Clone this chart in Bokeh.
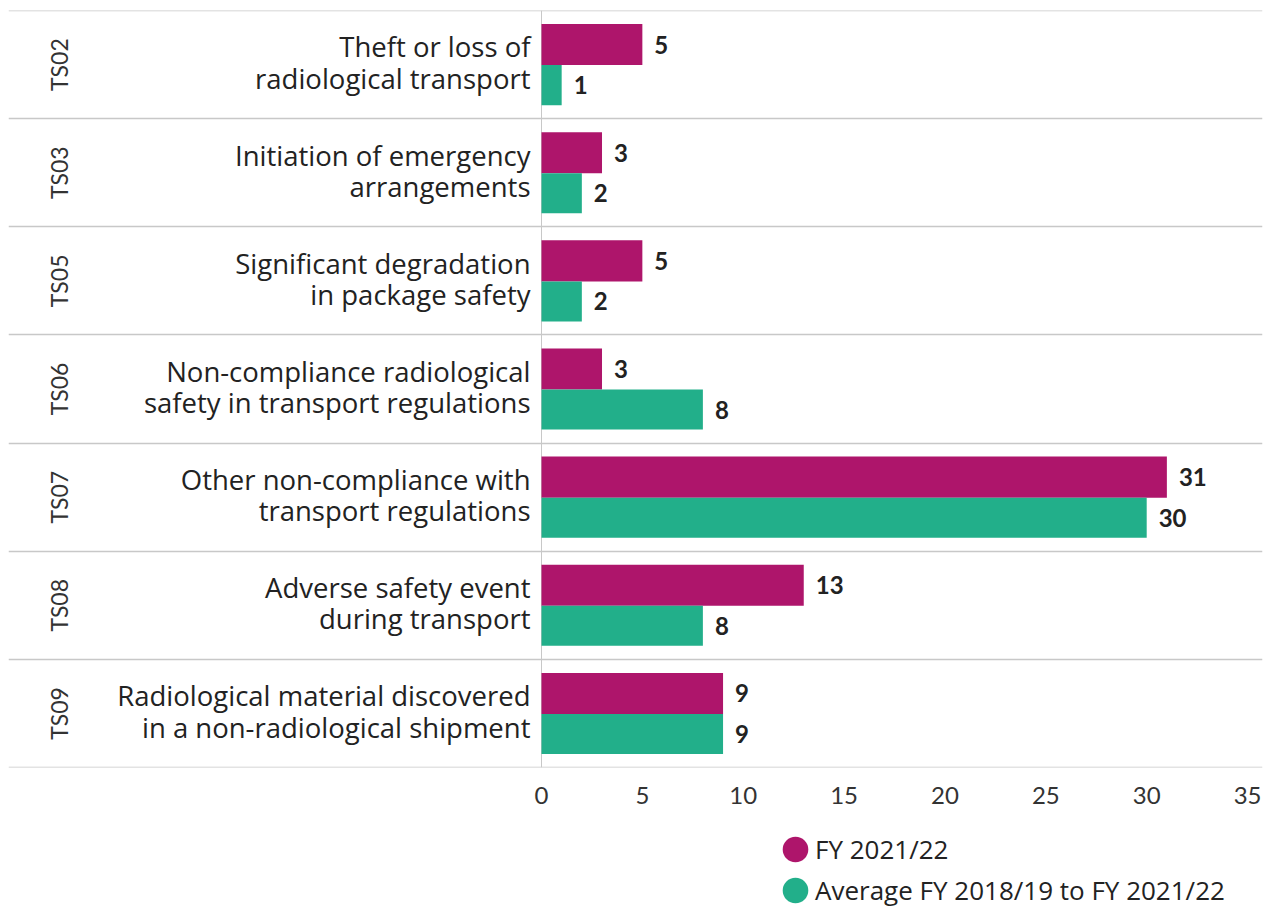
import math
from bokeh.plotting import figure
from bokeh.layouts import column
from bokeh.models import Range1d, FixedTicker, Legend, LegendItem, ColumnDataSource
from bokeh.core.properties import value
from bokeh.embed import file_html
from bokeh.resources import INLINE

codes = ["TS02", "TS03", "TS05", "TS06", "TS07", "TS08", "TS09"]
labels = [
    "Theft or loss of\nradiological transport",
    "Initiation of emergency\narrangements",
    "Significant degradation\nin package safety",
    "Non-compliance radiological\nsafety in transport regulations",
    "Other non-compliance with\ntransport regulations",
    "Adverse safety event\nduring transport",
    "Radiological material discovered\nin a non-radiological shipment",
]
fy_2021_22 = [5, 3, 5, 3, 31, 13, 9]
avg_2018_2022 = [1, 2, 2, 8, 30, 8, 9]
x_ticks = [0, 5, 10, 15, 20, 25, 30, 35]
series_names = ["FY 2021/22", "Average FY 2018/19 to FY 2021/22"]

MAGENTA = "#AE156B"
TEAL = "#22AF8A"
FONT = "Lato"
LABEL_FONT = "Open Sans"

n = len(codes)
ycent = [n - i - 0.5 for i in range(n)]

src = ColumnDataSource(dict(
    y=ycent,
    y1=[y + 0.185 for y in ycent],
    y2=[y - 0.19 for y in ycent],
    fy=fy_2021_22,
    avg=avg_2018_2022,
    fy_txt=[str(v) for v in fy_2021_22],
    avg_txt=[str(v) for v in avg_2018_2022],
    code=codes,
    label=labels,
    zero=[0] * n,
    code_x=[-23.9] * n,
))

p = figure(width=1266, height=827, output_backend="svg", toolbar_location=None,
           x_range=Range1d(-26.42, 35.74), y_range=Range1d(0, n),
           y_axis_location=None, min_border_left=8, min_border_right=4,
           min_border_top=10, min_border_bottom=60)
p.outline_line_color = None
p.xgrid.visible = False
p.ygrid.visible = False
p.background_fill_color = "white"

# row separators and zero line
p.hspan(y=list(range(n + 1)), line_color="#c8c8c8", line_width=1.5)
p.vspan(x=[0], line_color="#c8c8c8", line_width=1)

p.hbar(y="y1", left="zero", right="fy", height=0.38, source=src,
       fill_color=MAGENTA, line_color=None)
p.hbar(y="y2", left="zero", right="avg", height=0.37, source=src,
       fill_color=TEAL, line_color=None)

# value labels
p.text(x="fy", y="y1", text="fy_txt", source=src, x_offset=12,
       text_font=value(FONT), text_font_style="bold", text_font_size="24px",
       text_color="#222222", text_align="left", text_baseline="middle")
p.text(x="avg", y="y2", text="avg_txt", source=src, x_offset=12,
       text_font=value(FONT), text_font_style="bold", text_font_size="24px",
       text_color="#222222", text_align="left", text_baseline="middle")

# category labels
p.text(x="zero", y="y", text="label", source=src, x_offset=-11, y_offset=-2,
       text_font=value(LABEL_FONT), text_font_size="27.5px", text_line_height=0.845,
       text_color="#222222", text_align="right", text_baseline="middle")
# codes
p.text(x="code_x", y="y", text="code", source=src, angle=math.pi / 2,
       text_font=value(FONT), text_font_size="23px",
       text_color="#333333", text_align="center", text_baseline="middle")

ax = p.xaxis[0]
ax.ticker = FixedTicker(ticks=x_ticks)
ax.axis_line_color = None
ax.major_tick_line_color = None
ax.minor_tick_line_color = None
ax.major_tick_out = 0
ax.major_tick_in = 0
ax.major_label_standoff = 19
ax.major_label_text_font = FONT
ax.major_label_text_font_size = "24px"
ax.major_label_text_color = "#333333"

# legend figure
lf = figure(width=1266, height=81, output_backend="svg", toolbar_location=None,
            x_range=Range1d(0, 1), y_range=Range1d(0, 1),
            x_axis_location=None, y_axis_location=None,
            min_border_left=0, min_border_right=0, min_border_top=0, min_border_bottom=0)
lf.outline_line_color = None
lf.xgrid.visible = False
lf.ygrid.visible = False
proxy = ColumnDataSource(dict(x=[-10], y=[-10]))
l1 = lf.ellipse(x="x", y="y", width=26, height=26, width_units="screen",
                height_units="screen", source=proxy, fill_color=MAGENTA, line_color=None)
l2 = lf.ellipse(x="x", y="y", width=26, height=26, width_units="screen",
                height_units="screen", source=proxy, fill_color=TEAL, line_color=None)
legend = Legend(items=[LegendItem(label=series_names[0], renderers=[l1]),
                       LegendItem(label=series_names[1], renderers=[l2])],
                location=(771, 0), orientation="vertical",
                glyph_width=32, glyph_height=32, spacing=5, label_standoff=4,
                padding=0, margin=0, border_line_color=None,
                background_fill_alpha=0,
                label_text_font=LABEL_FONT, label_text_font_size="26px",
                label_text_color="#222222")
lf.add_layout(legend, "center")

layout = column(p, lf, spacing=0)
open("out.html", "w").write(file_html(layout, INLINE))
